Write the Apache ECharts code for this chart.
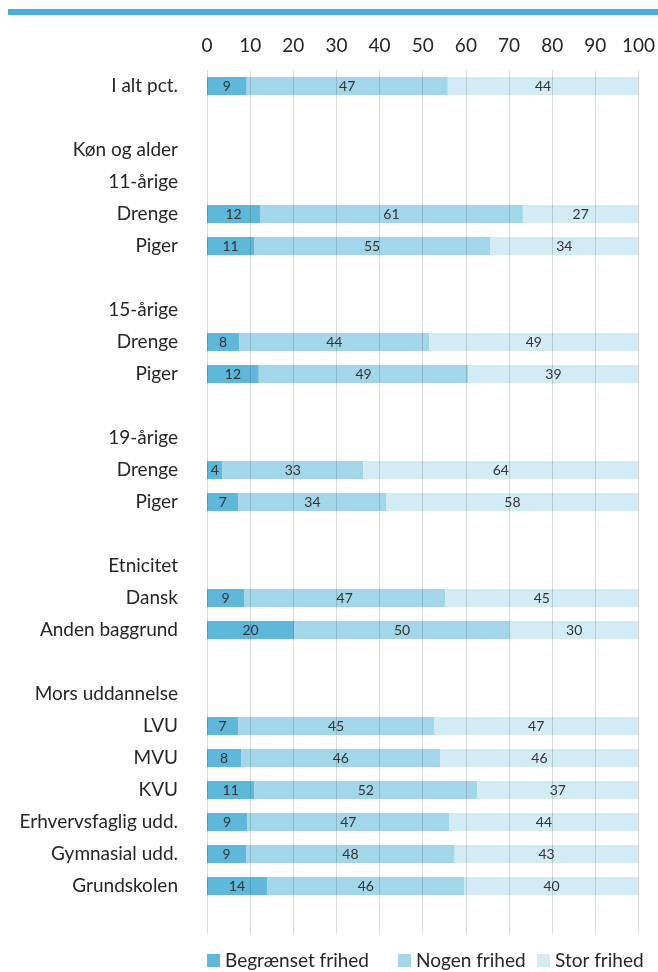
<!DOCTYPE html>
<html>
<head>
<meta charset="utf-8">
<script src="https://cdn.jsdelivr.net/npm/echarts@6/dist/echarts.min.js"></script>
<style>
html,body{margin:0;padding:0;background:#fff;}
#c{width:658px;height:972px;}
</style>
</head>
<body>
<div id="c"></div>
<script>
const categories = ['I alt pct.', ' ', 'Køn og alder', '11-årige', 'Drenge', 'Piger', '  ', '15-årige', 'Drenge', 'Piger', '   ', '19-årige', 'Drenge', 'Piger', '    ', 'Etnicitet', 'Dansk', 'Anden baggrund', '     ', 'Mors uddannelse', 'LVU', 'MVU', 'KVU', 'Erhvervsfaglig udd.', 'Gymnasial udd.', 'Grundskolen', '      '];
const begraenset = [9.2, '-', '-', '-', 12.3, 10.9, '-', '-', 7.5, 12.0, '-', '-', 3.6, 7.3, '-', '-', 8.6, 20.2, '-', '-', 7.2, 7.9, 11.0, 9.3, 9.1, 13.9, '-'];
const nogen = [46.6, '-', '-', '-', 60.9, 54.7, '-', '-', 44.0, 48.6, '-', '-', 32.6, 34.3, '-', '-', 46.6, 50.0, '-', '-', 45.4, 46.2, 51.6, 46.9, 48.3, 45.8, '-'];
const stor = [44.2, '-', '-', '-', 26.8, 34.4, '-', '-', 48.5, 39.4, '-', '-', 63.8, 58.4, '-', '-', 44.8, 29.8, '-', '-', 47.4, 45.9, 37.4, 43.8, 42.6, 40.3, '-'];
const seriesNames = ['Begrænset frihed', 'Nogen frihed', 'Stor frihed'];
const xTicks = {min: 0, max: 100, interval: 10};

const FONT = 'Lato';
const colors = ['#5fb7d9', '#a3d6e9', '#d3ebf5'];
const legendLefts = [207, 398, 537];
const chart = echarts.init(document.getElementById('c'));
function mk(name, data, color) {
  return {
    name: name, type: 'bar', stack: 'total', data: data, barWidth: 18,
    itemStyle: {color: color},
    label: {
      show: true, position: 'inside', color: '#333', fontSize: 14, fontFamily: FONT,
      formatter: p => Math.round(p.value)
    }
  };
}
chart.setOption({
  animation: false,
  textStyle: {fontFamily: FONT},
  color: colors,
  graphic: [{type: 'rect', shape: {x: 8, y: 9, width: 650, height: 6}, style: {fill: '#4aabd8'}}],
  grid: {left: 207, right: 19, top: 70, bottom: 38},
  legend: seriesNames.map((n, i) => ({
    top: 951, left: legendLefts[i], itemWidth: 13, itemHeight: 13, padding: 0,
    icon: 'rect',
    textStyle: {fontSize: 19, color: '#262626', fontFamily: FONT},
    data: [n]
  })),
  xAxis: {
    type: 'value', position: 'top', min: xTicks.min, max: xTicks.max, interval: xTicks.interval,
    z: 3,
    axisLine: {show: false}, axisTick: {show: false},
    axisLabel: {fontSize: 19, color: '#262626', margin: 15, fontFamily: FONT},
    splitLine: {lineStyle: {color: 'rgba(0,0,0,0.14)', width: 1}}
  },
  yAxis: {
    type: 'category', inverse: true, data: categories,
    axisLine: {show: false}, axisTick: {show: false},
    axisLabel: {fontSize: 19, color: '#262626', margin: 29, fontFamily: FONT, interval: 0, padding: [3, 0, 0, 0]}
  },
  series: [mk(seriesNames[0], begraenset, colors[0]), mk(seriesNames[1], nogen, colors[1]), mk(seriesNames[2], stor, colors[2])]
});
</script>
</body>
</html>
